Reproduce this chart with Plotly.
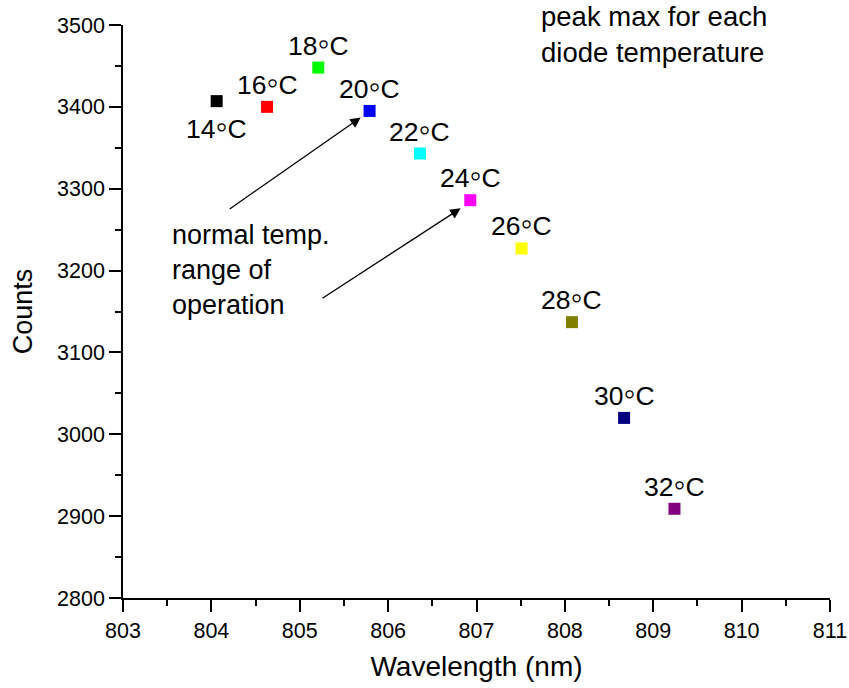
import plotly.graph_objects as go

# ---- data ----
temps = ["14", "16", "18", "20", "22", "24", "26", "28", "30", "32"]
wavelength = [804.06, 804.63, 805.21, 805.79, 806.36, 806.93, 807.51, 808.08, 808.67, 809.24]
counts = [3407, 3400, 3448, 3395, 3343, 3286, 3227, 3137, 3020, 2909]
colors = ["#000000", "#FF0000", "#00FF00", "#0000FF", "#00FFFF",
          "#FF00FF", "#FFFF00", "#808000", "#000080", "#800080"]
label_below = [True, False, False, False, False, False, False, False, False, False]

# arrows: (tip_x, tip_y, tail_x, tail_y)
arrow_tips_x = [805.69, 806.82]
arrow_tips_y = [3387, 3276]
arrow_tails_x = [804.19, 805.24]
arrow_tails_y = [3274, 3165]

FONT = "Liberation Sans, Arial, sans-serif"
DEG = '<span style="font-size:34px">\u25e6</span>'

fig = go.Figure()
fig.add_trace(go.Scatter(
    x=wavelength, y=counts, mode="markers",
    marker=dict(symbol="square", size=12, color=colors, line=dict(width=0)),
    showlegend=False, hoverinfo="x+y",
))

annotations = []
for t, xv, yv, below in zip(temps, wavelength, counts, label_below):
    annotations.append(dict(
        x=xv, y=yv, xref="x", yref="y", text=f"{t}{DEG}C", showarrow=False,
        yshift=-25 if below else 25, font=dict(family=FONT, size=26.5, color="black"),
        xanchor="center", yanchor="middle",
    ))

for tx, ty, sx, sy in zip(arrow_tips_x, arrow_tips_y, arrow_tails_x, arrow_tails_y):
    annotations.append(dict(
        x=tx, y=ty, ax=sx, ay=sy, xref="x", yref="y", axref="x", ayref="y",
        text="", showarrow=True, arrowhead=2, arrowsize=1.6, arrowwidth=1.3,
        arrowcolor="black", standoff=0,
    ))

annotations.append(dict(
    x=170, y=688 - 218, xref="paper", yref="paper", text="normal temp.<br>range of<br>operation",
    showarrow=False, align="left", xanchor="left", yanchor="top",
    font=dict(family=FONT, size=27, color="black"),
))
annotations.append(dict(
    x=539, y=688 + 1, xref="paper", yref="paper", text="peak max for each<br>diode temperature",
    showarrow=False, align="left", xanchor="left", yanchor="top",
    font=dict(family=FONT, size=27.5, color="black"),
))

# convert pixel-positioned paper annotations
L, R, T, B = 123, 19, 25, 90
W, H = 849, 688
pw, ph = W - L - R, H - T - B
for a in annotations[-2:]:
    a["x"] = (a["x"] - L) / pw
    a["y"] = (a["y"] - B) / ph

axis_common = dict(
    showline=True, linewidth=1.5, linecolor="black", mirror=False,
    ticks="outside", ticklen=12, tickwidth=1.5, tickcolor="black",
    showgrid=False, zeroline=False,
    tickfont=dict(family=FONT, size=21.5, color="black"),
)

fig.update_layout(
    width=W, height=H,
    margin=dict(l=L, r=R, t=T, b=B, autoexpand=False),
    paper_bgcolor="white", plot_bgcolor="white",
    showlegend=False,
    annotations=annotations,
    xaxis=dict(
        range=[803, 811], dtick=1, tick0=803,
        title=dict(text="Wavelength (nm)", font=dict(family=FONT, size=28, color="black"), standoff=15),
        minor=dict(dtick=0.5, tick0=803, ticks="outside", ticklen=6, tickwidth=1.5, tickcolor="black", showgrid=False),
        **axis_common,
    ),
    yaxis=dict(
        range=[2800, 3500], dtick=100, tick0=2800,
        title=dict(text="Counts", font=dict(family=FONT, size=27, color="black"), standoff=17),
        minor=dict(dtick=50, tick0=2800, ticks="outside", ticklen=6, tickwidth=1.5, tickcolor="black", showgrid=False),
        **axis_common,
    ),
)

fig.write_html("out.html", config={"displayModeBar": False},
               post_script="document.body.style.margin='0';")
